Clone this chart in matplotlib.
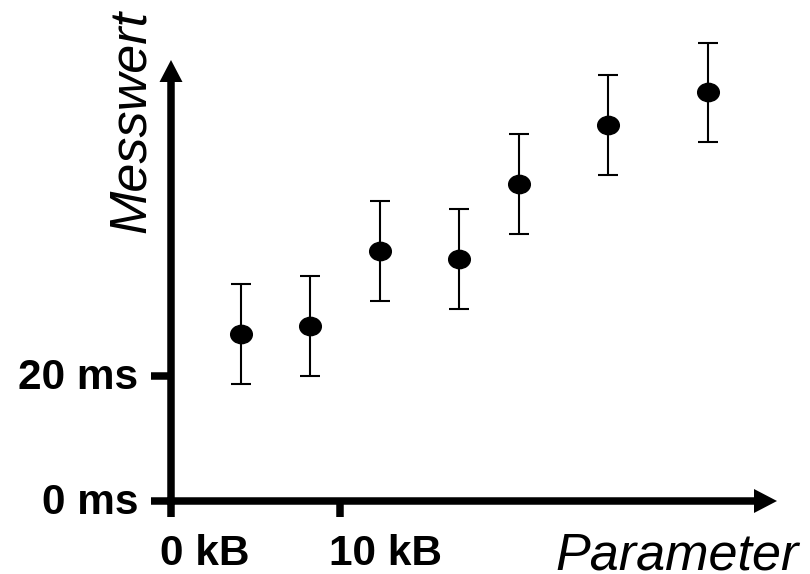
import matplotlib
matplotlib.use("Agg")
import matplotlib.pyplot as plt
from matplotlib.path import Path
from matplotlib.transforms import Affine2D, ScaledTranslation
import numpy as np

# Data
x_values = [4.12, 8.22, 12.37, 17.06, 20.6, 25.9, 31.8]     # kB
y_values = [26.7, 28.0, 40.05, 38.7, 50.7, 60.2, 65.4]      # ms
y_errors = [8.0, 8.0, 8.0, 8.0, 8.0, 8.0, 8.0]              # ms
x_ticks = [0, 10]
x_tick_labels = ["0 kB", "10 kB"]
y_ticks = [0, 20]
y_tick_labels = ["0 ms", "20 ms"]
x_max = 35.9
y_max = 70.6

W, H = 810, 574
fig = plt.figure(figsize=(W / 100, H / 100), dpi=100)
ax = fig.add_axes([171 / W, 1 - 501 / H, (777 - 171) / W, (501 - 60) / H])
ax.set_xlim(0, x_max)
ax.set_ylim(0, y_max)
ax.patch.set_visible(False)

# Elliptical marker
ell = Path.unit_circle().transformed(Affine2D().scale(1.0, 0.845))

ax.errorbar(x_values, y_values, yerr=y_errors, fmt="none", ecolor="black",
            elinewidth=1.5, capsize=7.5, capthick=1.5, zorder=2, clip_on=False)
ax.plot(x_values, y_values, linestyle="none", marker=ell, markersize=15.6,
        color="black", zorder=3, clip_on=False)

lw = 5.4
for s in ["top", "right"]:
    ax.spines[s].set_visible(False)
ax.spines["left"].set_linewidth(lw)
ax.spines["bottom"].set_linewidth(lw)
ax.spines["left"].set_bounds(0, y_max * (1 - 20 / 441))
ax.spines["bottom"].set_bounds(0, x_max * (1 - 22 / 606))

ax.set_xticks(x_ticks)
ax.set_xticklabels(x_tick_labels)
ax.set_yticks(y_ticks)
ax.set_yticklabels(y_tick_labels)
ax.tick_params(axis="x", direction="out", length=11.5, width=lw, pad=12.5,
               labelsize=30.5)
ax.tick_params(axis="y", direction="out", length=14.4, width=lw, pad=9,
               labelsize=30.5)
for lbl in ax.get_xticklabels() + ax.get_yticklabels():
    lbl.set_fontfamily("Liberation Sans")
    lbl.set_fontweight("bold")
off = ScaledTranslation(-11 / 100, 0, fig.dpi_scale_trans)
for lbl in ax.get_xticklabels():
    lbl.set_horizontalalignment("left")
    lbl.set_transform(lbl.get_transform() + off)
offy = ScaledTranslation(0, 3 / 100, fig.dpi_scale_trans)
for lbl in ax.get_yticklabels():
    lbl.set_transform(lbl.get_transform() + offy)

# Arrow heads
hx = 11.5 / 606
hy = 22 / 441
ax.fill([-hx, hx, 0], [1 - hy, 1 - hy, 1], color="black",
        transform=ax.transAxes, clip_on=False, zorder=4, linewidth=0)
vx = 23 / 606
vy = 12 / 441
ax.fill([1 - vx, 1 - vx, 1], [-vy, vy, 0], color="black",
        transform=ax.transAxes, clip_on=False, zorder=4, linewidth=0)

# Axis labels
fig.text(799 / W, 1 - 569 / H, "Parameter", ha="right", va="baseline",
         fontsize=37.5, fontstyle="italic", family="Liberation Sans")
fig.text(131 / W, 1 - 121.5 / H, "Messwert", ha="center", va="center",
         rotation=90, fontsize=37.5, fontstyle="italic", family="Liberation Sans")

fig.savefig("out.png", dpi=100)
